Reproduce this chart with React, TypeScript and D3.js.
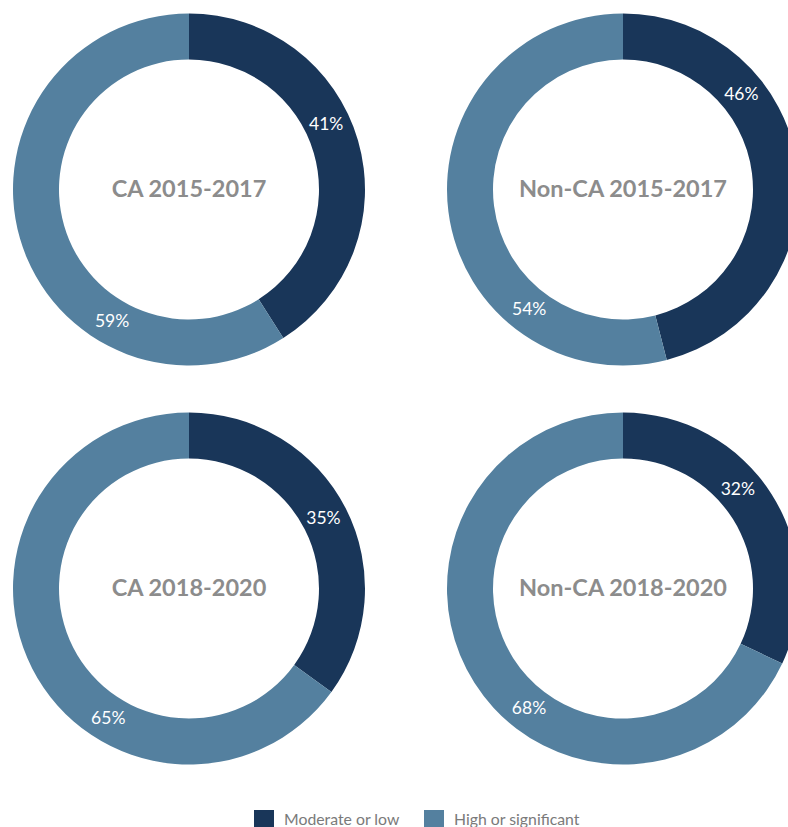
import React, { useEffect, useRef } from 'react';
import * as d3 from 'd3';

// data
const titles = ['CA 2015-2017', 'Non-CA 2015-2017', 'CA 2018-2020', 'Non-CA 2018-2020'];
const categories = ['Moderate or low', 'High or significant'];
const moderateLow = [41, 46, 35, 32];
const highSignificant = [59, 54, 65, 68];

// layout only: where each donut sits and where its labels were placed (degrees from 12 o'clock)
const centers = [[189, 189.5], [623, 189.5], [189, 588.5], [623, 588.5]];
const labelAngles = [[64.5, 210.4], [51.1, 218.1], [62.2, 212.1], [49.1, 218.2]];

const W = 788, H = 827;
const colors = ['#193659', '#54809f'];

const App = () => {
  const ref = useRef(null);

  useEffect(() => {
    const svg = d3.select(ref.current);
    svg.selectAll('*').remove();

    const outer = 176, inner = 130, labelR = 152;
    const color = d3.scaleOrdinal<string, string>().domain(categories).range(colors);
    const pie = d3.pie<any>().sort(null).value(d => d.value);
    const arc = d3.arc<any>().innerRadius(inner).outerRadius(outer);

    titles.forEach((title, i) => {
      const data = [
        { cat: categories[0], value: moderateLow[i] },
        { cat: categories[1], value: highSignificant[i] },
      ];
      const g = svg.append('g').attr('transform', `translate(${centers[i][0]},${centers[i][1]})`);

      g.selectAll('path')
        .data(pie(data))
        .enter()
        .append('path')
        .attr('d', arc)
        .attr('fill', d => color(d.data.cat));

      g.selectAll('text.pct')
        .data(data)
        .enter()
        .append('text')
        .attr('class', 'pct')
        .attr('x', (d, j) => labelR * Math.sin(labelAngles[i][j] * Math.PI / 180))
        .attr('y', (d, j) => -labelR * Math.cos(labelAngles[i][j] * Math.PI / 180))
        .attr('text-anchor', 'middle')
        .attr('dy', '0.36em')
        .attr('fill', '#ffffff')
        .style('font-family', 'Lato, sans-serif')
        .style('font-size', '17.5px')
        .text(d => `${d.value}%`);

      g.append('text')
        .attr('text-anchor', 'middle')
        .attr('dy', '0.3em')
        .attr('fill', '#8c8c8c')
        .style('font-family', 'Lato, sans-serif')
        .style('font-weight', 700)
        .style('font-size', '23.5px')
        .text(title);
    });

    // legend
    const legendX = [254, 424];
    const legend = svg.append('g');
    categories.forEach((c, i) => {
      legend.append('rect')
        .attr('x', legendX[i]).attr('y', 810)
        .attr('width', 20).attr('height', 20)
        .attr('fill', color(c));
      legend.append('text')
        .attr('x', legendX[i] + 30).attr('y', 825)
        .attr('fill', '#7a7a7a')
        .style('font-family', 'Lato, sans-serif')
        .style('font-size', '15.8px')
        .text(c);
    });
  }, []);

  return (
    <div style={{ position: 'absolute', left: 0, top: 0 }}>
      <svg ref={ref} width={W} height={H} style={{ display: 'block' }}></svg>
    </div>
  );
};

export default App;
